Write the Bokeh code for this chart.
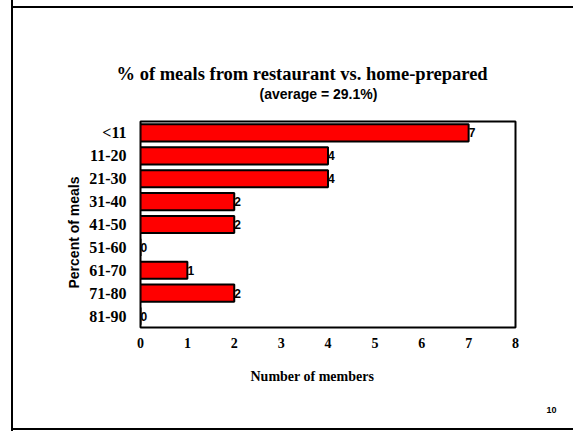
from bokeh.plotting import figure
from bokeh.models import Range1d, ColumnDataSource, FixedTicker, Title
from bokeh.core.properties import value
from bokeh.embed import file_html
from bokeh.resources import INLINE

# ---- data ----
categories = ["<11", "11-20", "21-30", "31-40", "41-50", "51-60", "61-70", "71-80", "81-90"]
members = [7, 4, 4, 2, 2, 0, 1, 2, 0]
x_ticks = [0, 1, 2, 3, 4, 5, 6, 7, 8]

title_text = "% of meals from restaurant vs. home-prepared"
subtitle_text = "(average = 29.1%)"
x_label_text = "Number of members"
y_label_text = "Percent of meals"
page_number = "10"

# ---- layout (canvas pixels) ----
W, H = 573, 431
FL, FR, FT, FB = 140, 515, 121, 327  # frame edges

SERIF = "Liberation Serif"
SANS = "Liberation Sans"

n = len(categories)
ypos = [n - i - 0.5 for i in range(n)]  # first category at top

p = figure(width=W, height=H,
           x_range=Range1d(x_ticks[0], x_ticks[-1]),
           y_range=Range1d(0, n),
           output_backend="svg", toolbar_location=None,
           min_border_left=FL, min_border_right=W - FR,
           min_border_top=FT, min_border_bottom=H - FB)

p.background_fill_color = "white"
p.border_fill_color = None
p.outline_line_color = "black"
p.outline_line_width = 2
p.xgrid.visible = False
p.ygrid.visible = False

# slide border drawn as CSS inset shadows on the host element (decoration only)
p.styles = {"box-shadow": ("inset 11px 0 0 0 white, inset 13px 0 0 0 black, "
                           "inset 0 6px 0 0 white, inset 0 8px 0 0 black, "
                           "inset 0 -1px 0 0 white, inset 0 -3px 0 0 black")}

src = ColumnDataSource(dict(y=ypos, cat=categories, val=members, lab=[str(v) for v in members]))
p.hbar(y="y", left=0, right="val", height=0.75, source=src,
       fill_color="#ff0000", line_color="black", line_width=2)
p.text(x="val", y="y", text="lab", source=src,
       text_font=value(SANS), text_font_style="bold", text_font_size="12px",
       text_align="left", text_baseline="middle", text_color="black")

# axes
xa = p.xaxis[0]
xa.ticker = FixedTicker(ticks=x_ticks)
xa.axis_line_color = None
xa.major_tick_line_color = None
xa.minor_tick_line_color = None
xa.major_tick_out = 0
xa.major_tick_in = 0
xa.major_label_standoff = 10
xa.major_label_text_font = SERIF
xa.major_label_text_font_style = "bold"
xa.major_label_text_font_size = "14px"
xa.major_label_text_color = "black"

ya = p.yaxis[0]
ya.ticker = FixedTicker(ticks=ypos)
ya.major_label_overrides = {y: c for y, c in zip(ypos, categories)}
ya.axis_line_color = None
ya.major_tick_line_color = None
ya.minor_tick_line_color = None
ya.major_tick_out = 0
ya.major_tick_in = 0
ya.major_label_standoff = 14
ya.major_label_text_font = SERIF
ya.major_label_text_font_style = "bold"
ya.major_label_text_font_size = "16px"
ya.major_label_text_color = "black"

# above: spacer (nearest frame), subtitle, then main title (farthest)
p.add_layout(Title(text=" ", text_font=SANS, text_font_size="1px",
                   align="left", standoff=17), "above")
p.add_layout(Title(text=subtitle_text, text_font=SANS, text_font_style="bold",
                   text_font_size="14px", text_color="black",
                   align="left", offset=119, standoff=0), "above")

p.title.text = title_text
p.title.text_font = SERIF
p.title.text_font_style = "bold"
p.title.text_font_size = "18.5px"
p.title.text_color = "black"
p.title.align = "left"
p.title.offset = -24
p.title.standoff = 0

# x axis label and page number below
p.add_layout(Title(text=x_label_text, text_font=SERIF, text_font_style="bold",
                   text_font_size="14px", text_color="black",
                   align="left", offset=110, standoff=33), "below")
p.add_layout(Title(text=page_number, text_font=SANS, text_font_style="bold",
                   text_font_size="9px", text_color="black",
                   align="right", offset=-41, standoff=9), "below")

# y axis label
p.add_layout(Title(text=y_label_text, text_font=SANS, text_font_style="bold",
                   text_font_size="14px", text_color="black",
                   align="left", offset=39, standoff=10), "left")

open("out.html", "w").write(file_html(p, INLINE))
